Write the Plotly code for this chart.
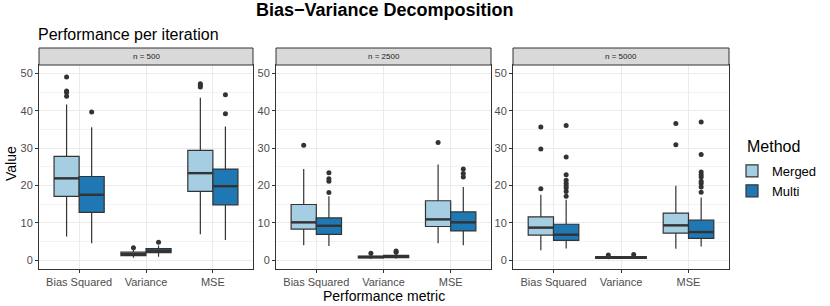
import plotly.graph_objects as go

# ---------------- data ----------------
panels = ["n = 500", "n = 2500", "n = 5000"]
metrics = ["Bias Squared", "Variance", "MSE"]
methods = ["Merged", "Multi"]

# per panel, per metric: [lowerfence, q1, median, q3, upperfence]
merged_stats = {
    "n = 500":  [[6.3, 17.1, 21.9, 27.8, 41.7], [0.6, 1.2, 1.6, 2.1, 2.9], [6.9, 18.4, 23.3, 29.4, 43.5]],
    "n = 2500": [[4.0, 8.3, 10.1, 14.9, 24.4], [0.3, 0.6, 0.8, 1.05, 1.5], [4.5, 9.0, 10.9, 15.9, 25.6]],
    "n = 5000": [[2.6, 6.7, 8.7, 11.6, 17.5], [0.2, 0.45, 0.65, 0.9, 1.2], [3.0, 7.2, 9.3, 12.6, 19.9]],
}
multi_stats = {
    "n = 500":  [[4.5, 12.8, 17.5, 22.4, 35.6], [0.9, 2.0, 2.5, 3.05, 3.9], [5.4, 14.8, 19.8, 24.4, 35.8]],
    "n = 2500": [[3.8, 6.9, 9.2, 11.3, 17.1], [0.35, 0.65, 0.95, 1.25, 1.8], [4.0, 7.8, 10.1, 12.9, 19.6]],
    "n = 5000": [[3.1, 5.3, 6.8, 9.6, 16.2], [0.25, 0.45, 0.65, 0.9, 1.25], [3.6, 5.8, 7.5, 10.7, 16.8]],
}
merged_outliers = {
    "n = 500":  [[49.1, 45.3, 44.9, 43.9], [3.3], [47.3, 46.9, 46.4]],
    "n = 2500": [[30.8], [1.8], [31.5]],
    "n = 5000": [[35.7, 29.8, 19.1], [1.35], [36.6, 30.9]],
}
multi_outliers = {
    "n = 500":  [[39.7], [4.8], [44.3, 39.2]],
    "n = 2500": [[23.4, 21.8, 21.1, 18.1], [2.4, 2.1], [24.4, 23.2, 22.3]],
    "n = 5000": [[36.1, 27.6, 22.9, 21.4, 20.6, 19.9, 19.3, 18.4, 17.1], [1.5],
                 [37.0, 28.3, 23.6, 22.9, 22.3, 21.1, 20.5, 19.6, 18.2]],
}
colors = {"Merged": "#A6CEE3", "Multi": "#1F78B4"}
y_ticks = [0, 10, 20, 30, 40, 50]

# ---------------- layout geometry ----------------
W, H = 830, 306
ml, mr, mt, mb = 39, 101, 48, 37
pw = W - ml - mr
ph = H - mt - mb
def px_x(p):
    return (p - ml) / pw
def px_y(p):
    return (H - mb - p) / ph

panel_px = [(39, 253), (276, 491), (513, 729)]
domains = [[px_x(a), px_x(b)] for a, b in panel_px]
strip_top, strip_bot = 48, 65
ydom = [0, px_y(strip_bot)]

fig = go.Figure()
dodge = 0.1875
bw = 0.375
grey20 = "#333333"
FONT = "Liberation Sans"

for pi, pan in enumerate(panels):
    xa = "x" if pi == 0 else f"x{pi+1}"
    ya = "y" if pi == 0 else f"y{pi+1}"
    for mi, meth in enumerate(methods):
        stats = merged_stats[pan] if meth == "Merged" else multi_stats[pan]
        outs = merged_outliers[pan] if meth == "Merged" else multi_outliers[pan]
        off = -dodge if mi == 0 else dodge
        xs = [k + off for k in range(len(metrics))]
        fig.add_trace(go.Box(
            x=xs,
            lowerfence=[s[0] for s in stats],
            q1=[s[1] for s in stats],
            median=[s[2] for s in stats],
            q3=[s[3] for s in stats],
            upperfence=[s[4] for s in stats],
            width=bw, whiskerwidth=0,
            fillcolor=colors[meth],
            line=dict(color=grey20, width=1.2),
            name=meth, legendgroup=meth, showlegend=(pi == 0),
            boxpoints=False, hoverinfo="skip",
            xaxis=xa, yaxis=ya,
        ))
        # thicker median segments (ggplot fatten)
        mx, my = [], []
        for k, s in enumerate(stats):
            mx += [k + off - bw / 2, k + off + bw / 2, None]
            my += [s[2], s[2], None]
        fig.add_trace(go.Scatter(
            x=mx, y=my, mode="lines", line=dict(color=grey20, width=2.4),
            showlegend=False, hoverinfo="skip", xaxis=xa, yaxis=ya,
        ))
        ox, oy = [], []
        for k, vals in enumerate(outs):
            for v in vals:
                ox.append(k + off)
                oy.append(v)
        fig.add_trace(go.Scatter(
            x=ox, y=oy, mode="markers",
            marker=dict(color=grey20, size=5),
            showlegend=False, hoverinfo="skip",
            xaxis=xa, yaxis=ya,
        ))

axis_common = dict(
    showline=True, mirror=True, linecolor=grey20, linewidth=1,
    ticks="outside", ticklen=3, tickcolor=grey20,
    tickfont=dict(family=FONT, size=11, color="#4D4D4D"),
    gridcolor="#EBEBEB", gridwidth=1, zeroline=False,
)
layout_axes = {}
for pi in range(3):
    kx = "xaxis" if pi == 0 else f"xaxis{pi+1}"
    ky = "yaxis" if pi == 0 else f"yaxis{pi+1}"
    layout_axes[kx] = dict(
        axis_common, domain=domains[pi], range=[-0.6, 2.6],
        tickvals=list(range(len(metrics))), ticktext=metrics,
        anchor="y" if pi == 0 else f"y{pi+1}",
    )
    layout_axes[ky] = dict(
        axis_common, domain=ydom, range=[-2.4, 52.3],
        tickvals=y_ticks,
        minor=dict(tickvals=[5, 15, 25, 35, 45], showgrid=True,
                   gridcolor="#F2F2F2", gridwidth=0.6, ticks=""),
        anchor="x" if pi == 0 else f"x{pi+1}",
    )

shapes, annotations = [], []
for pi, pan in enumerate(panels):
    shapes.append(dict(type="rect", xref="paper", yref="paper",
                       x0=domains[pi][0], x1=domains[pi][1],
                       y0=px_y(strip_bot), y1=px_y(strip_top),
                       fillcolor="#D9D9D9", line=dict(color=grey20, width=1),
                       layer="above"))
    annotations.append(dict(text=pan, xref="paper", yref="paper",
                            x=(domains[pi][0] + domains[pi][1]) / 2,
                            y=px_y((strip_top + strip_bot) / 2),
                            xanchor="center", yanchor="middle", showarrow=False,
                            font=dict(family=FONT, size=8, color="#1A1A1A")))

annotations += [
    dict(text="<b>Bias\u2212Variance Decomposition</b>", xref="paper", yref="paper",
         x=px_x(385), y=px_y(10), xanchor="center", yanchor="middle", showarrow=False,
         font=dict(family=FONT, size=18, color="black")),
    dict(text="Performance per iteration", xref="paper", yref="paper",
         x=px_x(36), y=px_y(34), xanchor="left", yanchor="middle", showarrow=False,
         font=dict(family=FONT, size=16, color="black")),
    dict(text="Value", xref="paper", yref="paper", textangle=-90,
         x=px_x(11), y=px_y(164), xanchor="center", yanchor="middle", showarrow=False,
         font=dict(family=FONT, size=14, color="black")),
    dict(text="Performance metric", xref="paper", yref="paper",
         x=px_x(384), y=px_y(296), xanchor="center", yanchor="middle", showarrow=False,
         font=dict(family=FONT, size=14, color="black")),
    dict(text="Method", xref="paper", yref="paper",
         x=px_x(745), y=px_y(146), xanchor="left", yanchor="middle", showarrow=False,
         font=dict(family=FONT, size=16, color="black")),
]

fig.update_layout(
    width=W, height=H,
    margin=dict(l=ml, r=mr, t=mt, b=mb, autoexpand=False),
    paper_bgcolor="white", plot_bgcolor="white",
    boxmode="overlay",
    shapes=shapes, annotations=annotations,
    legend=dict(font=dict(family=FONT, size=13, color="black"),
                x=px_x(732), y=px_y(156), xanchor="left", yanchor="top",
                tracegroupgap=0, itemwidth=30, bgcolor="rgba(0,0,0,0)"),
    **layout_axes,
)

fig.write_html("out.html", config={"displayModeBar": False},
               post_script="document.body.style.margin='0';document.body.style.padding='0';")
